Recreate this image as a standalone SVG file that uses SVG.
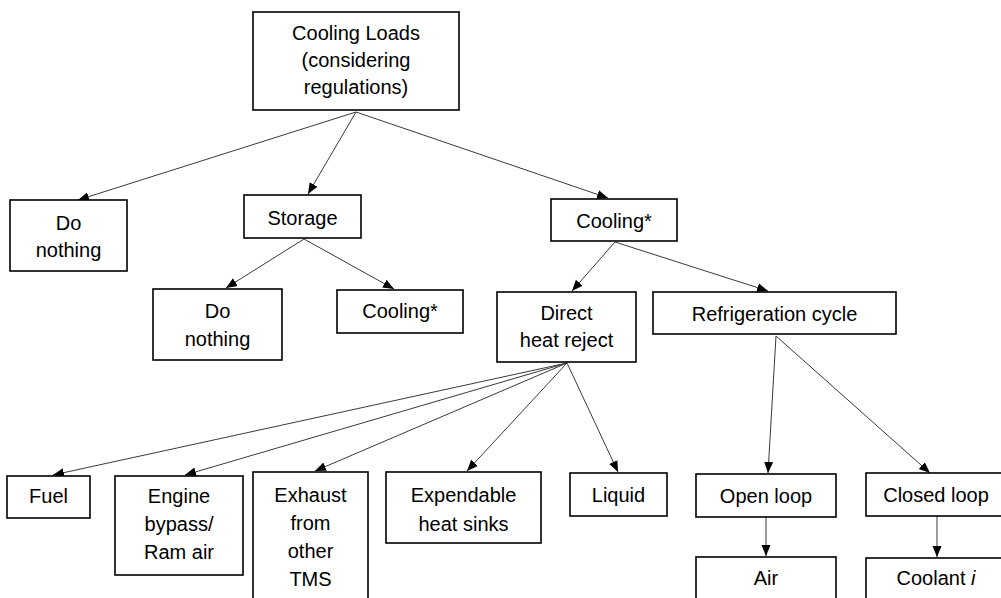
<svg xmlns="http://www.w3.org/2000/svg" width="1001" height="598" viewBox="0 0 1001 598">
  <style>
    .box { fill: #ffffff; stroke: #000000; stroke-width: 1.6; }
    .lbl { font-family: "Liberation Sans", Arial, sans-serif; font-size: 20px; fill: #000000; text-anchor: middle; }
    .edge { stroke: #3a3a3a; stroke-width: 1; fill: none; marker-end: url(#arrow); }
  </style>
  <defs>
    <marker id="arrow" markerUnits="userSpaceOnUse" markerWidth="12" markerHeight="12" viewBox="0 0 12 12" refX="11" refY="6" orient="auto">
      <path d="M0,1.5 L11,6 L0,10.5 Z" fill="#000000"/>
    </marker>
  </defs>
  <rect width="1001" height="598" fill="#ffffff"/>

  <!-- connectors -->
  <g id="connectors">
    <line class="edge" x1="356" y1="112" x2="78" y2="200"/>
    <line class="edge" x1="356" y1="112" x2="308" y2="194"/>
    <line class="edge" x1="356" y1="112" x2="608" y2="198"/>
    <line class="edge" x1="304" y1="239" x2="226" y2="288"/>
    <line class="edge" x1="304" y1="239" x2="394" y2="289"/>
    <line class="edge" x1="615" y1="242" x2="572" y2="291"/>
    <line class="edge" x1="615" y1="242" x2="768" y2="291"/>
    <line class="edge" x1="567" y1="363" x2="53" y2="475"/>
    <line class="edge" x1="567" y1="363" x2="185" y2="475"/>
    <line class="edge" x1="567" y1="363" x2="315" y2="471"/>
    <line class="edge" x1="567" y1="363" x2="467" y2="471"/>
    <line class="edge" x1="567" y1="363" x2="618" y2="472"/>
    <line class="edge" x1="776" y1="336" x2="768" y2="473"/>
    <line class="edge" x1="776" y1="336" x2="930" y2="473"/>
    <line class="edge" x1="766" y1="517" x2="766" y2="556"/>
    <line class="edge" x1="937" y1="516" x2="937" y2="557"/>
  </g>

  <!-- nodes -->
  <g id="cooling-loads">
    <rect class="box" x="253" y="12" width="206" height="98"/>
    <text class="lbl" x="356" y="40">Cooling Loads</text>
    <text class="lbl" x="356" y="67">(considering</text>
    <text class="lbl" x="356" y="94">regulations)</text>
  </g>
  <g id="do-nothing-1">
    <rect class="box" x="10" y="200" width="117" height="71"/>
    <text class="lbl" x="68.5" y="230">Do</text>
    <text class="lbl" x="68.5" y="257">nothing</text>
  </g>
  <g id="storage">
    <rect class="box" x="244" y="195" width="117" height="43"/>
    <text class="lbl" x="302.5" y="225">Storage</text>
  </g>
  <g id="cooling-main">
    <rect class="box" x="551" y="199" width="126" height="42"/>
    <text class="lbl" x="614" y="228">Cooling*</text>
  </g>
  <g id="do-nothing-2">
    <rect class="box" x="153" y="289" width="129" height="71"/>
    <text class="lbl" x="217.5" y="318">Do</text>
    <text class="lbl" x="217.5" y="346">nothing</text>
  </g>
  <g id="cooling-storage">
    <rect class="box" x="337" y="290" width="126" height="43"/>
    <text class="lbl" x="400" y="318">Cooling*</text>
  </g>
  <g id="direct-heat-reject">
    <rect class="box" x="497" y="292" width="139" height="70"/>
    <text class="lbl" x="566.5" y="320">Direct</text>
    <text class="lbl" x="566.5" y="347">heat reject</text>
  </g>
  <g id="refrigeration-cycle">
    <rect class="box" x="653" y="292" width="243" height="42"/>
    <text class="lbl" x="774.5" y="321">Refrigeration cycle</text>
  </g>
  <g id="fuel">
    <rect class="box" x="7" y="476" width="83" height="42"/>
    <text class="lbl" x="48.5" y="503">Fuel</text>
  </g>
  <g id="engine-bypass">
    <rect class="box" x="115" y="476" width="128" height="99"/>
    <text class="lbl" x="179" y="503">Engine</text>
    <text class="lbl" x="179" y="531">bypass/</text>
    <text class="lbl" x="179" y="559">Ram air</text>
  </g>
  <g id="exhaust">
    <rect class="box" x="253" y="472" width="115" height="140"/>
    <text class="lbl" x="310.5" y="502">Exhaust</text>
    <text class="lbl" x="310.5" y="530">from</text>
    <text class="lbl" x="310.5" y="558">other</text>
    <text class="lbl" x="310.5" y="586">TMS</text>
  </g>
  <g id="expendable">
    <rect class="box" x="386" y="472" width="155" height="71"/>
    <text class="lbl" x="463.5" y="502">Expendable</text>
    <text class="lbl" x="463.5" y="531">heat sinks</text>
  </g>
  <g id="liquid">
    <rect class="box" x="570" y="473" width="97" height="43"/>
    <text class="lbl" x="618.5" y="502">Liquid</text>
  </g>
  <g id="open-loop">
    <rect class="box" x="696" y="474" width="140" height="43"/>
    <text class="lbl" x="766" y="503">Open loop</text>
  </g>
  <g id="air">
    <rect class="box" x="696" y="557" width="140" height="60"/>
    <text class="lbl" x="766" y="585">Air</text>
  </g>
  <g id="closed-loop">
    <rect class="box" x="866" y="473" width="140" height="43"/>
    <text class="lbl" x="936" y="502">Closed loop</text>
  </g>
  <g id="coolant">
    <rect class="box" x="866" y="558" width="140" height="60"/>
    <text class="lbl" x="936" y="585">Coolant <tspan font-style="italic">i</tspan></text>
  </g>
</svg>
